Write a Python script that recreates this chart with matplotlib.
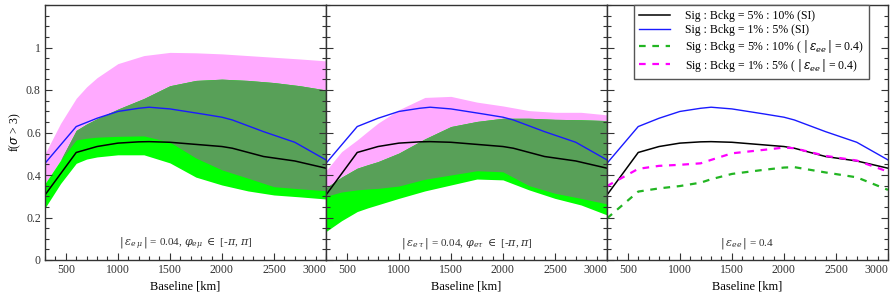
import matplotlib
matplotlib.use("Agg")
import matplotlib.pyplot as plt
from matplotlib.ticker import MultipleLocator, FixedLocator
import numpy as np

plt.rcParams['font.family'] = ['Liberation Serif', 'DejaVu Serif']
plt.rcParams['mathtext.fontset'] = 'dejavuserif'

# ---- data ----
line_x = [300, 600, 800, 1000, 1200, 1300, 1500, 1800, 2000, 2100, 2400, 2700, 3000]
si_5_10 = [0.306, 0.506, 0.534, 0.550, 0.556, 0.557, 0.554, 0.542, 0.534, 0.526, 0.487, 0.466, 0.432]
si_1_5 = [0.455, 0.628, 0.667, 0.699, 0.714, 0.719, 0.711, 0.688, 0.672, 0.659, 0.604, 0.554, 0.471]
ee_1_5 = [0.348, 0.429, 0.443, 0.448, 0.455, 0.471, 0.502, 0.518, 0.529, 0.526, 0.490, 0.468, 0.416]
ee_5_10 = [0.196, 0.322, 0.337, 0.348, 0.364, 0.380, 0.405, 0.424, 0.435, 0.437, 0.412, 0.389, 0.330]

band_x = [300, 450, 600, 700, 800, 1000, 1250, 1500, 1750, 2000, 2250, 2500, 2750, 3000]
# e-mu panel
em_pink_hi = [0.50, 0.643, 0.761, 0.815, 0.858, 0.924, 0.962, 0.977, 0.975, 0.970, 0.962, 0.954, 0.946, 0.937]
em_pink_lo = [0.36, 0.47, 0.565, 0.573, 0.578, 0.582, 0.584, 0.555, 0.48, 0.424, 0.385, 0.345, 0.335, 0.326]
em_green_hi = [0.36, 0.47, 0.61, 0.64, 0.665, 0.71, 0.76, 0.82, 0.845, 0.851, 0.845, 0.835, 0.82, 0.80]
em_green_lo = [0.245, 0.36, 0.455, 0.475, 0.485, 0.495, 0.495, 0.457, 0.39, 0.353, 0.325, 0.306, 0.297, 0.287]
# e-tau panel
et_pink_hi = [0.42, 0.51, 0.565, 0.605, 0.644, 0.707, 0.765, 0.770, 0.743, 0.725, 0.703, 0.695, 0.695, 0.683]
et_pink_lo = [0.30, 0.32, 0.33, 0.334, 0.337, 0.348, 0.38, 0.40, 0.42, 0.415, 0.35, 0.314, 0.29, 0.264]
et_green_hi = [0.34, 0.39, 0.432, 0.448, 0.463, 0.503, 0.57, 0.628, 0.652, 0.667, 0.667, 0.662, 0.66, 0.656]
et_green_lo = [0.134, 0.185, 0.228, 0.245, 0.26, 0.29, 0.325, 0.353, 0.381, 0.377, 0.33, 0.29, 0.259, 0.212]

panel_texts = [r'$|\,\varepsilon_{e\,\mu}\,|$ = 0.04, $\varphi_{e\mu}$ $\in$ [-$\pi$, $\pi$]',
               r'$|\,\varepsilon_{e\,\tau}\,|$ = 0.04, $\varphi_{e\tau}$ $\in$ [-$\pi$, $\pi$]',
               r'$|\,\varepsilon_{ee}\,|$ = 0.4']
legend_labels = ['Sig : Bckg = 5% : 10% (SI)',
                 'Sig : Bckg = 1% : 5% (SI)',
                 r'Sig : Bckg = 5% : 10% ( $|\,\varepsilon_{ee}\,|$ = 0.4)',
                 r'Sig : Bckg = 1% : 5% ( $|\,\varepsilon_{ee}\,|$ = 0.4)']
xticks = [500, 1000, 1500, 2000, 2500, 3000]
yticks = [0, 0.2, 0.4, 0.6, 0.8, 1.0]
ytick_labels = ['0', '0.2', '0.4', '0.6', '0.8', '1']

PINK = '#ffaaff'
BRIGHT = '#00ff00'
DARK = '#58a058'
BLUE = '#1a1aff'
GDASH = '#22b522'
MDASH = '#ff00ff'

W, H = 893, 306
fig = plt.figure(figsize=(W / 100, H / 100), dpi=100)
x0s = [45, 326, 607]
pw = 281
top, bottom = 5, 260
axes = []
for i, x0 in enumerate(x0s):
    ax = fig.add_axes([x0 / W, (H - bottom) / H, pw / W, (bottom - top) / H])
    axes.append(ax)

bands = [(em_pink_lo, em_pink_hi, em_green_lo, em_green_hi),
         (et_pink_lo, et_pink_hi, et_green_lo, et_green_hi)]

for i, ax in enumerate(axes):
    if i < 2:
        plo, phi, glo, ghi = [np.array(a) for a in bands[i]]
        bx = np.array(band_x)
        ax.fill_between(bx, plo, phi, color=PINK, lw=0)
        ax.fill_between(bx, glo, ghi, color=BRIGHT, lw=0)
        olo = np.maximum(plo, glo)
        ohi = np.minimum(phi, ghi)
        ax.fill_between(bx, olo, ohi, where=ohi > olo, interpolate=True, color=DARK, lw=0)
    l1, = ax.plot(line_x, si_5_10, color='black', lw=1.1)
    l2, = ax.plot(line_x, si_1_5, color=BLUE, lw=1.0)
    if i == 2:
        l3, = ax.plot(line_x, ee_5_10, color=GDASH, lw=1.6, dashes=(3, 3))
        l4, = ax.plot(line_x, ee_1_5, color=MDASH, lw=1.6, dashes=(3, 3))
        leg = ax.legend([l1, l2, l3, l4], legend_labels, loc='upper left',
                        bbox_to_anchor=(0.096, 1.0), borderaxespad=0,
                        fancybox=False, framealpha=1, edgecolor='#555555',
                        fontsize=8.5, handlelength=2.6, handletextpad=1.3,
                        labelspacing=0.15, borderpad=0.45)
        leg.get_frame().set_linewidth(1.0)
    ax.set_xlim(300, 3000)
    ax.set_ylim(0, 1.2)
    ax.xaxis.set_major_locator(FixedLocator(xticks))
    ax.xaxis.set_minor_locator(MultipleLocator(100))
    ax.yaxis.set_major_locator(FixedLocator(yticks))
    ax.yaxis.set_minor_locator(MultipleLocator(0.05))
    ax.tick_params(which='both', direction='in', left=True, right=True,
                   top=False, bottom=True, colors='#333333', labelcolor='#333333')
    ax.tick_params(which='major', length=5, width=0.8, labelsize=8.5, pad=3)
    ax.tick_params(which='minor', length=3, width=0.8)
    ax.set_xticklabels([str(t) for t in xticks])
    lbls = ax.get_xticklabels()
    lbls[-1].set_horizontalalignment('right')
    if i == 0:
        ax.set_yticklabels(ytick_labels)
        ax.set_ylabel(r'f($\sigma$ > 3)', fontsize=8.5, labelpad=2)
    else:
        ax.set_yticklabels([])
    ax.set_xlabel('Baseline [km]', fontsize=9, labelpad=3)
    for s in ax.spines.values():
        s.set_color('#333333')
        s.set_linewidth(1.0)
    ax.text(0.5, 0.079 / 1.2, panel_texts[i], transform=ax.transAxes,
            ha='center', va='center', fontsize=8, color='#333333')

fig.savefig('out.png', dpi=100)
